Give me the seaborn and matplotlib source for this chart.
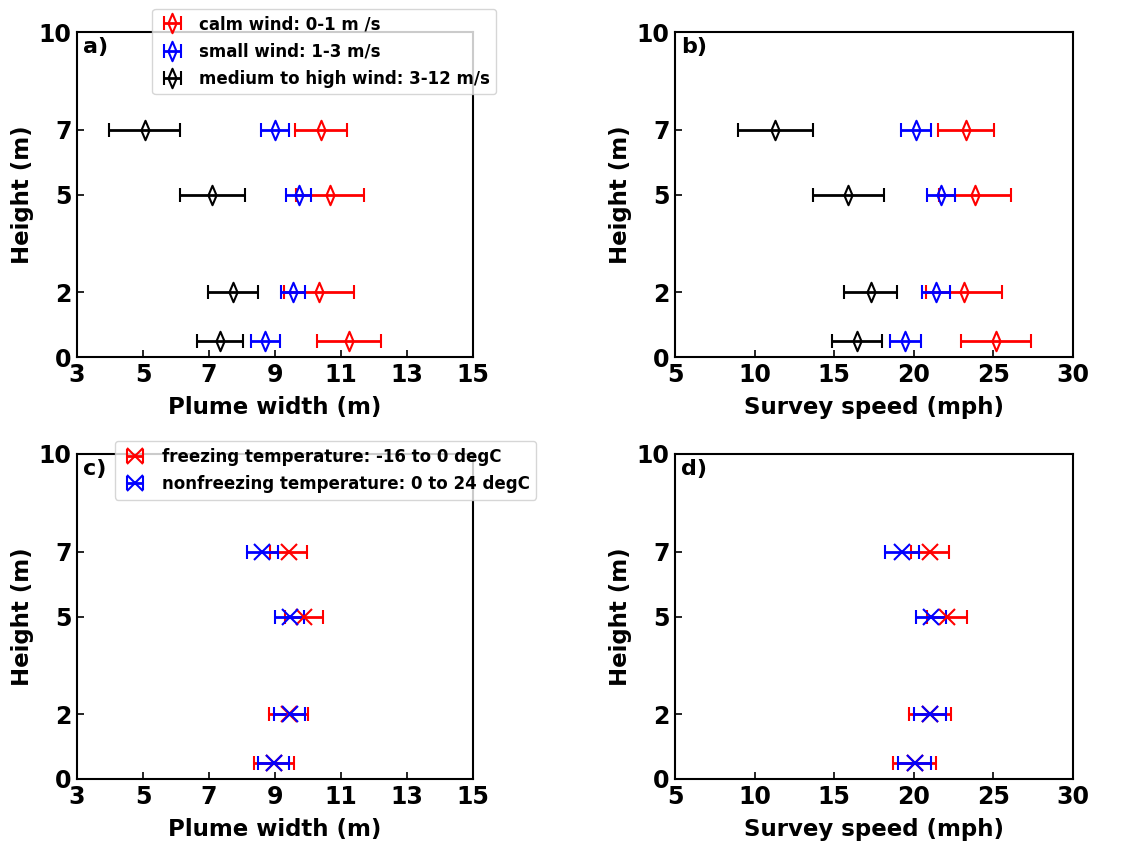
import numpy as np
import matplotlib
matplotlib.use("Agg")
import matplotlib.pyplot as plt
import seaborn as sns

heights = [0.5, 2, 5, 7]
ytick_vals = [0, 2, 5, 7, 10]

# Panel a: plume width by wind class
calm_width = [11.24, 10.33, 10.66, 10.39]
calm_width_err = [0.97, 1.05, 1.03, 0.78]
small_width = [8.71, 9.55, 9.72, 9.00]
small_width_err = [0.44, 0.37, 0.38, 0.42]
high_width = [7.34, 7.73, 7.10, 5.05]
high_width_err = [0.70, 0.75, 0.99, 1.07]

# Panel b: survey speed by wind class
calm_speed = [25.18, 23.14, 23.85, 23.29]
calm_speed_err = [2.19, 2.37, 2.24, 1.74]
small_speed = [19.47, 21.38, 21.72, 20.14]
small_speed_err = [0.98, 0.87, 0.87, 0.93]
high_speed = [16.45, 17.29, 15.89, 11.31]
high_speed_err = [1.57, 1.67, 2.21, 2.37]

# Panel c: plume width by temperature
freeze_width = [8.96, 9.42, 9.87, 9.42]
freeze_width_err = [0.61, 0.59, 0.58, 0.56]
nonfreeze_width = [8.96, 9.44, 9.44, 8.62]
nonfreeze_width_err = [0.47, 0.46, 0.44, 0.48]

# Panel d: survey speed by temperature
freeze_speed = [20.06, 21.02, 22.11, 21.02]
freeze_speed_err = [1.36, 1.31, 1.26, 1.22]
nonfreeze_speed = [20.06, 21.02, 21.07, 19.24]
nonfreeze_speed_err = [1.03, 0.98, 0.95, 1.07]

wind_labels = ["calm wind: 0-1 m /s", "small wind: 1-3 m/s", "medium to high wind: 3-12 m/s"]
temp_labels = ["freezing temperature: -16 to 0 degC", "nonfreezing temperature: 0 to 24 degC"]

sns.set_theme(style="white")
plt.rcParams["font.family"] = ["DejaVu Sans"]
plt.rcParams["font.weight"] = "bold"
plt.rcParams["axes.labelweight"] = "bold"
plt.rcParams["text.color"] = "black"
plt.rcParams["axes.labelcolor"] = "black"

fig = plt.figure(figsize=(11.38, 8.44), dpi=100)
W, H = 1138, 844
def add_ax(l, r, t, b):
    return fig.add_axes([l / W, 1 - b / H, (r - l) / W, (b - t) / H])

ax_a = add_ax(77, 473, 32, 357)
ax_b = add_ax(675, 1073, 32, 357)
ax_c = add_ax(77, 473, 454, 779)
ax_d = add_ax(675, 1073, 454, 779)

thin_diamond = [(-0.42, 0.0), (0.0, 1.0), (0.42, 0.0), (0.0, -1.0), (-0.42, 0.0)]

def eb(ax, x, xerr, color, marker, label):
    mk = thin_diamond if marker == "d" else "x"
    return ax.errorbar(x, heights, xerr=xerr, marker=mk,
                       color=color, ecolor=color, mfc="none", mec=color,
                       ms=14 if marker == "d" else 11, mew=1.5,
                       elinewidth=2, capsize=5, capthick=2, label=label, ls="none")

def style(ax, xlim, xticks, xlabel, tag):
    ax.set_xlim(*xlim)
    ax.set_ylim(0, 10)
    ax.set_xticks(xticks)
    ax.set_yticks(ytick_vals)
    ax.tick_params(direction="in", length=5, width=1.2, labelsize=17, colors="black",
                   bottom=True, left=True, pad=4)
    for lab in ax.get_xticklabels() + ax.get_yticklabels():
        lab.set_fontweight("bold")
    ax.set_xlabel(xlabel, fontsize=16.5, fontweight="bold", color="black", labelpad=7)
    ax.set_ylabel("Height (m)", fontsize=16.5, fontweight="bold", color="black", labelpad=3)
    for s in ax.spines.values():
        s.set_color("black")
        s.set_linewidth(1.5)
    ax.text(0.015, 0.985, tag, transform=ax.transAxes, ha="left", va="top",
            fontsize=16, fontweight="bold", color="black")

legend_kw = dict(loc="upper left", borderaxespad=0, prop={"weight": "bold", "size": 12},
                 handlelength=1.6, framealpha=0.8, labelspacing=0.55)

eb(ax_a, calm_width, calm_width_err, "red", "d", wind_labels[0])
eb(ax_a, small_width, small_width_err, "blue", "d", wind_labels[1])
eb(ax_a, high_width, high_width_err, "black", "d", wind_labels[2])
style(ax_a, (3, 15), [3, 5, 7, 9, 11, 13, 15], "Plume width (m)", "a)")
ax_a.legend(bbox_to_anchor=(0.19, 1.072), **legend_kw)

eb(ax_b, calm_speed, calm_speed_err, "red", "d", wind_labels[0])
eb(ax_b, small_speed, small_speed_err, "blue", "d", wind_labels[1])
eb(ax_b, high_speed, high_speed_err, "black", "d", wind_labels[2])
style(ax_b, (5, 30), [5, 10, 15, 20, 25, 30], "Survey speed (mph)", "b)")

eb(ax_c, freeze_width, freeze_width_err, "red", "x", temp_labels[0])
eb(ax_c, nonfreeze_width, nonfreeze_width_err, "blue", "x", temp_labels[1])
style(ax_c, (3, 15), [3, 5, 7, 9, 11, 13, 15], "Plume width (m)", "c)")
ax_c.legend(bbox_to_anchor=(0.096, 1.04), **legend_kw)

eb(ax_d, freeze_speed, freeze_speed_err, "red", "x", temp_labels[0])
eb(ax_d, nonfreeze_speed, nonfreeze_speed_err, "blue", "x", temp_labels[1])
style(ax_d, (5, 30), [5, 10, 15, 20, 25, 30], "Survey speed (mph)", "d)")

fig.savefig("out.png", dpi=100)
